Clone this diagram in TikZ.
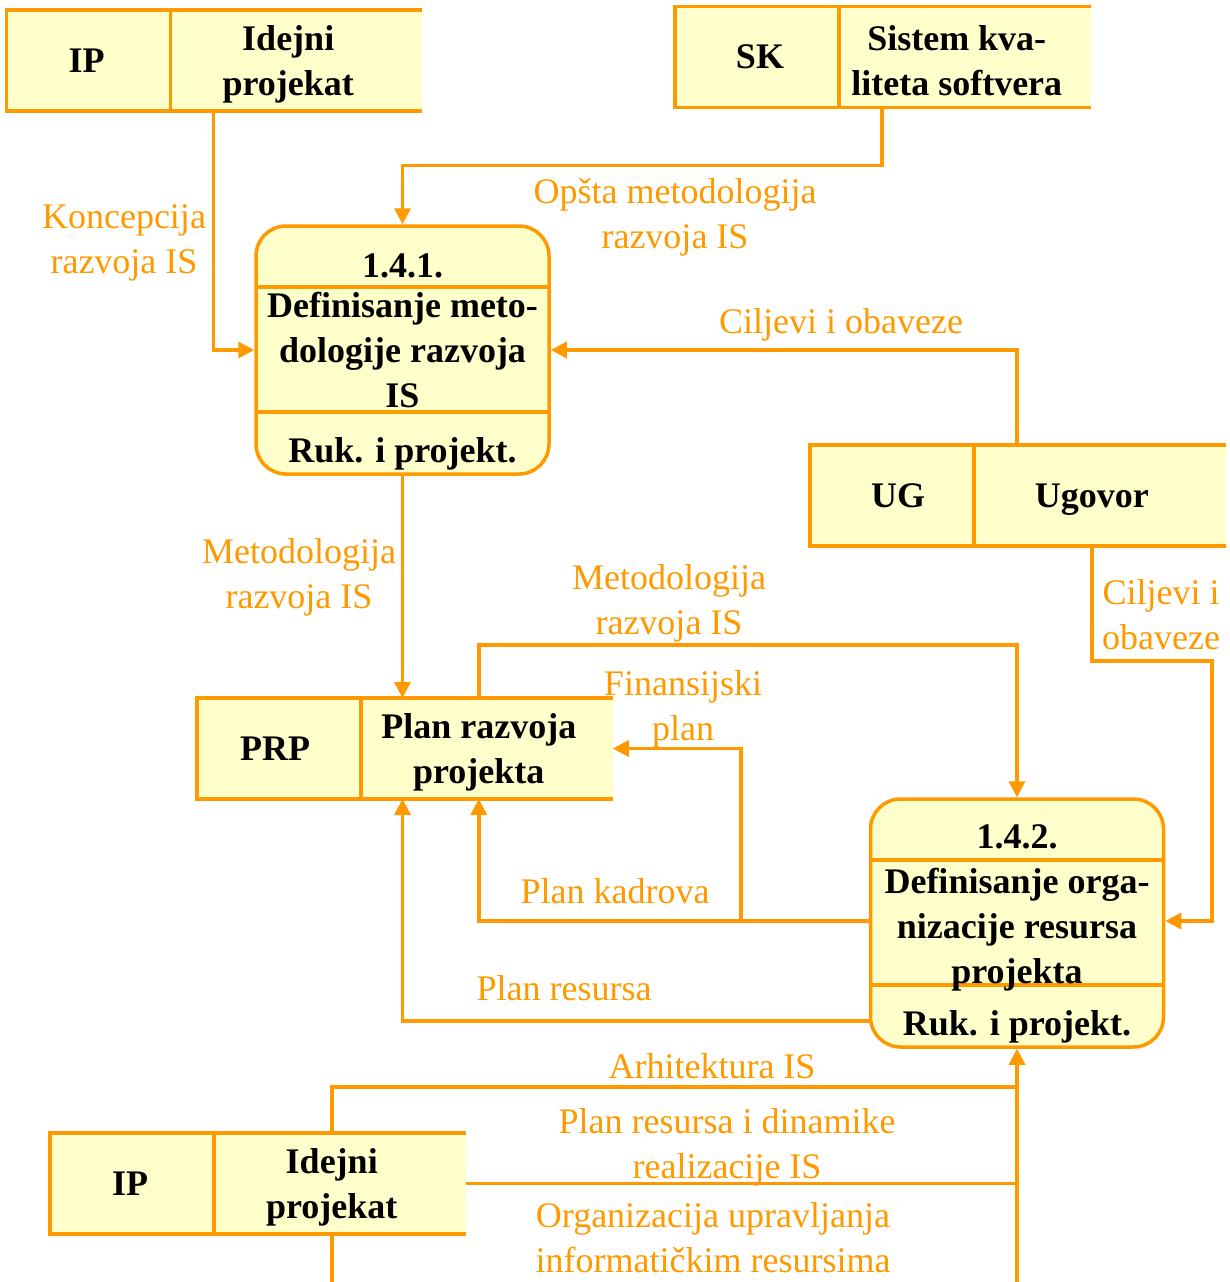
\documentclass[tikz,border=0pt]{standalone}
\usepackage{fontspec}
\setmainfont{Liberation Serif}
\usepackage{tikz}
\usetikzlibrary{arrows.meta,positioning,calc}
\definecolor{dfdorange}{HTML}{FF9900}
\definecolor{dfdfill}{HTML}{FFFFCC}
\tikzset{
  border/.style={
    draw=dfdorange,
    line width=3.5pt
  },
  store id/.style={
    border,
    fill=dfdfill,
    minimum width=164pt,
    minimum height=101pt,
    inner sep=0pt,
    font=\fontsize{36}{45}\selectfont\bfseries
  },
  store name/.style={
    fill=dfdfill,
    minimum width=250pt,
    minimum height=101pt,
    inner sep=0pt,
    outer sep=0pt,
    append after command={
      (\tikzlastnode.north west) edge[border] (\tikzlastnode.north east)
      (\tikzlastnode.south west) edge[border] (\tikzlastnode.south east)
    }
  },
  store text/.style={
    xshift=-9pt,
    yshift=-4pt,
    inner sep=0pt,
    align=center,
    font=\fontsize{36}{45}\selectfont\bfseries
  },
  process/.style={
    border,
    fill=dfdfill,
    rounded corners=30pt,
    minimum width=293pt,
    minimum height=248pt,
    inner sep=0pt,
    align=center,
    font=\fontsize{36}{45}\selectfont\bfseries,
    path picture={
      \draw[border] ([yshift=-61pt]path picture bounding box.north west)
        -- ([yshift=-61pt]path picture bounding box.north east);
      \draw[border] ([yshift=62pt]path picture bounding box.south west)
        -- ([yshift=62pt]path picture bounding box.south east);
    }
  },
  ptext/.style={
    inner sep=0pt,
    font=\fontsize{36}{45}\selectfont\bfseries
  },
  flow/.style={
    border,
    ->
  },
  lbl/.style={
    text=dfdorange,
    inner sep=0pt,
    yshift=-4pt,
    align=center,
    font=\fontsize{36}{45}\selectfont
  }
}
\begin{document}
\begin{tikzpicture}[x=1pt, y=-1pt, >={Triangle[length=16pt,width=16pt]}]
 \useasboundingbox (0,0) rectangle (1230,1282);
 \coordinate (bottomedge) at (0,1282);

 % stores
 \node[store id] (ip) at (88.5,60.5) {\hspace*{-4pt}IP};
 \node[store name, right=0pt of ip, label={[store text]center:{Idejni\\projekat}}] (ipname) {};
 \node[store id] (sk) at (757,57) {\hspace*{6pt}SK};
 \node[store name, right=0pt of sk, label={[store text]center:{Sistem kva-\\liteta softvera}}] (skname) {};
 \node[store id] (ug) at (892,495.5) {\hspace*{12pt}UG};
 \node[store name, right=0pt of ug, label={[store text]center:{Ugovor}}] (ugname) {};
 \node[store id] (prp) at (279,748.5) {\hspace*{-8pt}PRP};
 \node[store name, right=0pt of prp, label={[store text]center:{Plan razvoja\\projekta}}] (prpname) {};
 \node[store id] (ipb) at (132,1183.5) {\hspace*{-4pt}IP};
 \node[store name, right=0pt of ipb, label={[store text]center:{Idejni\\projekat}}] (ipbname) {};

 % processes
 \node[process] (p1) at (402.5,350) {Definisanje meto-\\dologije razvoja\\IS};
 \node[ptext] (p1no) at ([yshift=-42pt]p1.north) {1.4.1.};
 \node[ptext] (p1who) at ([yshift=22pt]p1.south) {Ruk. i projekt.};
 \node[process] (p2) at (1017,923) {\rule{0pt}{38pt}Definisanje orga-\\nizacije resursa\\projekta};
 \node[ptext] (p2no) at ([yshift=-40pt]p2.north) {1.4.2.};
 \node[ptext] (p2who) at ([yshift=22pt]p2.south) {Ruk. i projekt.};

 % flows
 \draw[flow] ([xshift=41pt]ipname.south west) |- (p1.west);
 \draw[flow] ([xshift=41pt]skname.south west) -- ++(0,58) -| (p1.north);
 \draw[flow] ([xshift=41pt]ugname.north west) |- (p1.east);
 \draw[flow] (p1.south) -- (p1.south |- prpname.north);
 \draw[flow] ([xshift=116pt]prpname.north west) -- ++(0,-53) -| (p2.north);
 \draw[flow] ([yshift=2pt]p2.west) -| ([xshift=116pt]prpname.south west);
 \draw[flow] ([yshift=2pt]p2.west) -- ++(-128,0) |- (prpname.east);
 \draw[flow] ([yshift=28pt]p2.south west) -| (p1.south |- prpname.south);
 \draw[flow] ([xshift=116pt]ugname.south west) -- ++(0,115) -- ++(120,0) |- ([yshift=2pt]p2.east);
 \draw[flow] (p2.south |- bottomedge) -- (p2.south);
 \draw[border] ([xshift=116pt]ipbname.north west) -- ++(0,-46) coordinate (archturn)
   -- (archturn -| p2.south);
 \draw[border] (ipbname.east) -- (ipbname.east -| p2.south);
 \draw[border] ([xshift=116pt]ipbname.south west) -- ++(0,48);

 % labels
 \node[lbl] (lkoncepcija) at (124,239) {Koncepcija\\razvoja IS};
 \node[lbl] (lopsta) at (675,213) {Opšta metodologija\\razvoja IS};
 \node[lbl] (lciljevi) at (841,321) {Ciljevi i obaveze};
 \node[lbl] (lmetod) at (299,573) {Metodologija\\razvoja IS};
 \node[lbl] (lmetodb) at (669,599) {Metodologija\\razvoja IS};
 \node[lbl] (lfin) at (683,705) {Finansijski\\plan};
 \node[lbl] (lkadr) at (615,887) {Plan kadrova};
 \node[lbl] (lres) at (564,984) {Plan resursa};
 \node[lbl] (lciljevib) at (1161,611) {Ciljevi i\\obaveze};
 \node[lbl] (larh) at (712,1062) {Arhitektura IS};
 \node[lbl] (lplan) at (727,1143) {Plan resursa i dinamike\\realizacije IS};
 \node[lbl] (lorg) at (713,1234) {Organizacija upravljanja\\informatičkim resursima};
\end{tikzpicture}
\end{document}
